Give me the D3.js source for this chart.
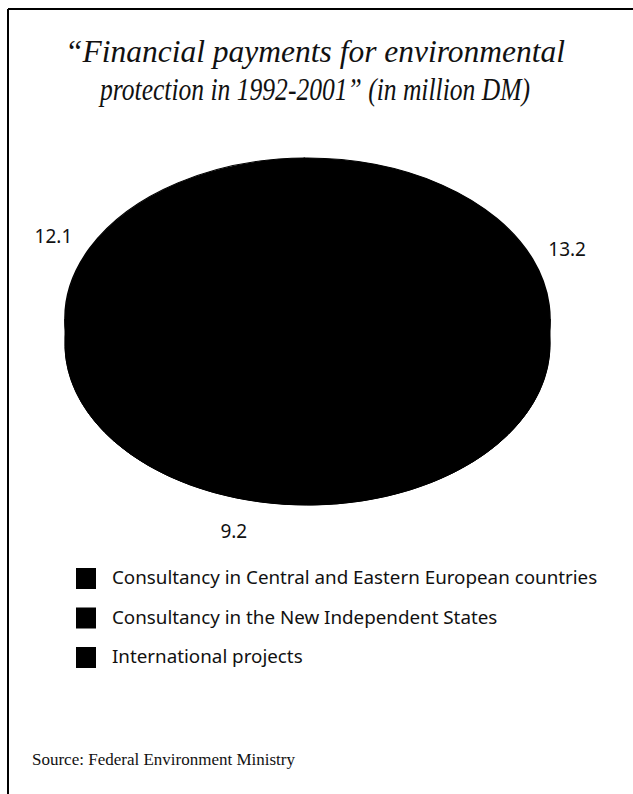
<!DOCTYPE html>
<html>
<head>
<meta charset="utf-8">
<script src="https://cdn.jsdelivr.net/npm/d3@7"></script>
<style>
  html, body { margin: 0; padding: 0; background: #fff; }
  svg { display: block; }
</style>
</head>
<body>
<svg id="chart" width="633" height="794"></svg>
<script>
// Financial payments for environmental protection, 1992-2001 (million DM)
const categories = [
  "Consultancy in Central and Eastern European countries",
  "Consultancy in the New Independent States",
  "International projects"
];
const values = [12.1, 13.2, 9.2];
const valueLabels = ["12.1", "13.2", "9.2"];

const titleLines = [
  "\u201CFinancial payments for environmental",
  "protection in 1992-2001\u201D (in million DM)"
];
const sourceText = "Source: Federal Environment Ministry";

// layout
const W = 633, H = 794;
const cx = 307.5, cy = 319;
const rx = 242.5, ry = 161;
const depth = 25;
const k = ry / rx;
const labelR = 283;
const labelNudge = [[0, 0], [-3, 0], [-49, 0]];
const titleWidths = [500, 430];
const sliceColor = "#000";

const svg = d3.select("#chart");

// frame (top and left rules)
svg.append("line").attr("x1", 8).attr("y1", 9).attr("x2", W).attr("y2", 9)
  .attr("stroke", "#000").attr("stroke-width", 2);
svg.append("line").attr("x1", 8).attr("y1", 9).attr("x2", 8).attr("y2", H)
  .attr("stroke", "#000").attr("stroke-width", 2);

// title
svg.append("g").selectAll("text").data(titleLines).join("text")
  .attr("x", 315).attr("y", (d, i) => 62 + i * 38)
  .attr("text-anchor", "middle")
  .attr("textLength", (d, i) => titleWidths[i])
  .attr("lengthAdjust", "spacingAndGlyphs")
  .style("font-family", "'Liberation Serif', 'Times New Roman', serif")
  .style("font-style", "italic")
  .style("font-size", "31px")
  .attr("fill", "#111")
  .text(d => d);

// pie
const startA = 233 * Math.PI / 180;
const pie = d3.pie().sort(null).value(d => d)
  .startAngle(startA).endAngle(startA + 2 * Math.PI);
const arcs = pie(values);
const arc = d3.arc().innerRadius(0).outerRadius(rx);

const pieG = svg.append("g");

// bottom face
pieG.append("g")
  .attr("transform", `translate(${cx},${cy + depth}) scale(1,${k})`)
  .selectAll("path").data(arcs).join("path")
  .attr("d", arc).attr("fill", sliceColor).attr("stroke", sliceColor);

// side walls on the visible front half
function wallPath(a0, a1) {
  const lo = Math.PI / 2, hi = 3 * Math.PI / 2;
  const norm = a => ((a % (2 * Math.PI)) + 2 * Math.PI) % (2 * Math.PI);
  let s = norm(a0), e = s + (a1 - a0);
  const segs = [];
  for (const off of [0, 2 * Math.PI]) {
    const s2 = Math.max(s, lo + off), e2 = Math.min(e, hi + off);
    if (e2 > s2) segs.push([s2, e2]);
  }
  return segs.map(([p, q]) => {
    const n = 40, pts = [];
    for (let i = 0; i <= n; i++) {
      const a = p + (q - p) * i / n;
      pts.push([cx + Math.sin(a) * rx, cy - Math.cos(a) * ry]);
    }
    for (let i = n; i >= 0; i--) {
      const a = p + (q - p) * i / n;
      pts.push([cx + Math.sin(a) * rx, cy - Math.cos(a) * ry + depth]);
    }
    return "M" + pts.map(d => d.join(",")).join("L") + "Z";
  }).join("");
}
pieG.append("g").selectAll("path").data(arcs).join("path")
  .attr("d", d => wallPath(d.startAngle, d.endAngle))
  .attr("fill", sliceColor).attr("stroke", sliceColor);

// top face
pieG.append("g")
  .attr("transform", `translate(${cx},${cy}) scale(1,${k})`)
  .selectAll("path").data(arcs).join("path")
  .attr("d", arc).attr("fill", sliceColor).attr("stroke", sliceColor)
  .attr("stroke-width", 1 / k);

// value labels
const labelArc = d3.arc().innerRadius(labelR).outerRadius(labelR);
svg.append("g").selectAll("text").data(arcs).join("text")
  .attr("x", (d, i) => cx + labelArc.centroid(d)[0] + labelNudge[i][0])
  .attr("y", (d, i) => {
    const c = labelArc.centroid(d);
    return cy + c[1] * k + (c[1] > 0 ? depth : 0) + labelNudge[i][1];
  })
  .attr("dy", "0.35em")
  .attr("text-anchor", "middle")
  .style("font-family", "'Noto Sans', 'DejaVu Sans', sans-serif")
  .style("font-size", "19px")
  .attr("fill", "#111")
  .text((d, i) => valueLabels[i]);

// legend
const legend = svg.append("g").selectAll("g").data(categories).join("g")
  .attr("transform", (d, i) => `translate(76,${568 + i * 39.5})`);
legend.append("rect")
  .attr("width", 20).attr("height", 21).attr("fill", sliceColor);
legend.append("text")
  .attr("x", 36).attr("y", 16)
  .style("font-family", "'Noto Sans', 'DejaVu Sans', sans-serif")
  .style("font-size", "18.8px")
  .attr("fill", "#111")
  .text(d => d);

// source
svg.append("text")
  .attr("x", 32).attr("y", 765)
  .style("font-family", "'Liberation Serif', 'Times New Roman', serif")
  .style("font-size", "17px")
  .attr("fill", "#111")
  .text(sourceText);
</script>
</body>
</html>
